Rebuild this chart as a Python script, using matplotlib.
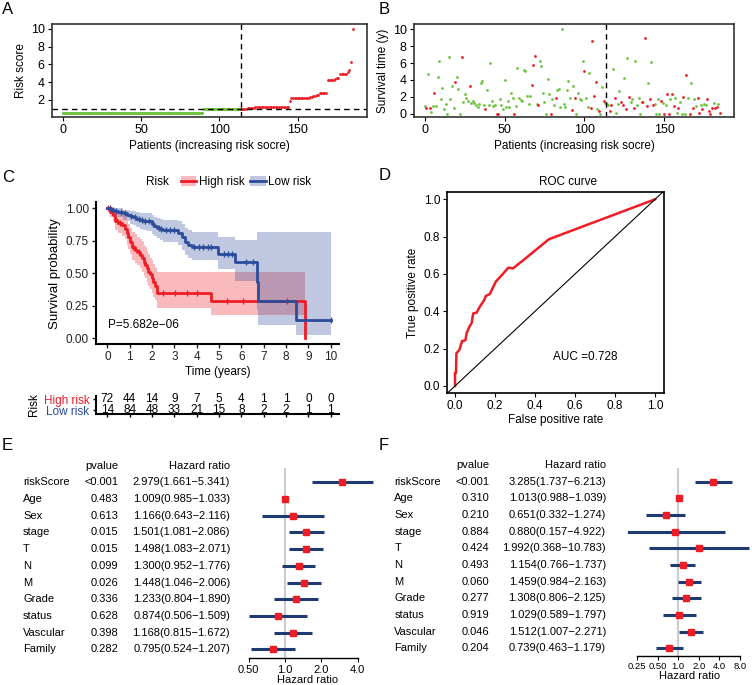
import numpy as np
import matplotlib.pyplot as plt
from matplotlib.patches import Patch
from matplotlib.lines import Line2D
from matplotlib.transforms import blended_transform_factory

plt.rcParams['font.family'] = ['Liberation Sans', 'DejaVu Sans']

W, H = 752, 685
RED = '#ee1c25'
GREEN = '#6cc33c'
BLUE = '#2b4b9b'
NAVY = '#1f3a70'

# ---------------- data ----------------
# A: risk score of each patient (sorted)
a_low = [0.5] * 90 + [0.97] * 24
a_high = ([1.00, 1.01, 1.02, 1.03, 1.04, 1.06, 1.08, 1.10, 1.12]
          + [1.18] * 10 + [1.20] * 8 + [1.25] * 4
          + [1.9] + [2.2] * 12
          + [2.3, 2.35, 2.4, 2.5, 2.55, 2.6]
          + [2.8] * 5
          + [4.2, 4.2, 4.25, 4.3, 4.3, 4.35, 4.5, 4.5]
          + [4.9] * 5 + [5.1, 5.4, 6.3, 10.0])
a_cut = 0.99

# B: survival time (years) and status (1 = dead)
b_time = [0.95, 0.7, 4.65, 0.7, 0.23, 0.9, 2.46, 0.9, 4.4, 6.3, 1.7, 3.0, 0.6, 1.2, 0.0,
          6.7, 1.7, 3.3, 0.7, 3.8, 4.4, 2.9, 0.0, 6.7, 1.4, 2.3, 1.9, 1.5, 3.3, 1.3,
          1.5, 1.3, 1.0, 0.8, 1.1, 3.6, 3.9, 1.0, 0.5, 2.85, 1.0, 6.0, 1.5, 0.9, 1.0,
          0.0, 0.0, 1.7, 1.0, 0.6, 4.0, 0.8, 1.5, 0.8, 2.5, 1.8, 0.0, 0.9, 5.4, 1.8,
          1.6, 1.5, 5.2, 5.1, 2.1, 1.2, 2.1, 3.4, 5.8, 6.8, 1.2, 1.0, 6.3, 5.7, 2.46,
          1.4, 0.0, 4.1, 2.3, 0.0, 1.7, 1.0, 1.8, 2.8, 2.9, 0.8, 10.1, 1.2, 0.8, 2.8,
          3.9, 1.8, 0.4, 3.3, 1.8, 0.0, 2.4, 1.7, 1.6, 6.3, 5.0, 1.8, 0.8, 4.8, 0.7,
          8.6, 2.15, 3.7, 0.6, 0.3, 0.0, 3.2, 1.5, 1.3,
          1.2, 1.0, 0.3, 1.0, 5.3, 1.8, 0.1, 1.2, 2.65, 1.4, 1.0, 4.2, 0.5, 6.6, 2.0,
          1.4, 1.7, 0.7, 6.2, 1.0, 1.9, 0.0, 1.4, 1.4, 9.0, 0.9, 3.6, 1.7, 6.1, 1.0,
          1.2, 0.0, 1.7, 0.0, 1.5, 1.3, 0.0, 1.0, 2.3, 0.0, 1.7, 2.3, 0.9, 1.8, 0.1,
          0.7, 1.4, 0.0, 2.0, 0.0, 4.6, 1.8, 0.0, 3.6, 0.7, 1.7, 0.9, 1.9, 0.1, 1.0,
          0.5, 1.1, 1.0, 1.7, 0.3, 0.0, 0.7, 1.3, 0.7, 0.8, 1.2, 0.1]
b_dead = [0, 1, 0, 1, 0, 0, 1, 0, 0, 0, 0, 0, 0, 0, 0,
          0, 0, 0, 0, 1, 0, 0, 0, 1, 0, 0, 0, 0, 1, 0,
          0, 0, 0, 0, 0, 0, 0, 0, 1, 0, 0, 0, 0, 0, 0,
          1, 1, 0, 0, 0, 0, 0, 0, 0, 0, 0, 1, 0, 0, 0,
          0, 0, 0, 0, 0, 0, 0, 1, 1, 1, 0, 1, 0, 0, 0,
          0, 0, 0, 0, 1, 0, 0, 1, 0, 0, 0, 0, 0, 0, 0,
          0, 0, 1, 0, 1, 0, 0, 0, 0, 0, 1, 0, 0, 0, 1,
          1, 1, 1, 0, 1, 0, 0, 1, 0,
          0, 0, 1, 1, 0, 1, 0, 0, 0, 1, 1, 0, 1, 0, 1,
          0, 0, 1, 0, 0, 0, 0, 1, 0, 1, 1, 0, 1, 0, 1,
          0, 0, 0, 0, 1, 0, 1, 0, 1, 1, 0, 1, 1, 0, 0,
          1, 0, 0, 1, 0, 1, 0, 1, 0, 1, 0, 0, 1, 1, 0,
          1, 0, 0, 1, 1, 1, 1, 0, 1, 1, 0, 1]

# C: Kaplan-Meier, high risk
hr_t = [0, 0.12, 0.27, 0.34, 0.5, 0.64, 0.79, 0.87, 0.94, 1.02, 1.09, 1.24, 1.35,
        1.47, 1.54, 1.62, 1.7, 1.76, 1.84, 1.92, 1.99, 2.06, 2.14, 2.21, 4.62, 8.85]
hr_s = [1.0, 0.97, 0.95, 0.9, 0.886, 0.87, 0.84, 0.81, 0.78, 0.74, 0.70, 0.68, 0.66,
        0.64, 0.62, 0.59, 0.565, 0.54, 0.51, 0.49, 0.46, 0.43, 0.40, 0.345, 0.286, 0.0]
hr_up = [1, 1, 1, 0.99, 0.96, 0.95, 0.93, 0.9, 0.88, 0.85, 0.82, 0.8, 0.78, 0.76,
         0.745, 0.72, 0.7, 0.67, 0.645, 0.62, 0.6, 0.57, 0.54, 0.51, 0.51, 0.51]
hr_lo = [1, 0.93, 0.90, 0.83, 0.81, 0.79, 0.76, 0.72, 0.69, 0.65, 0.6, 0.58, 0.56, 0.54,
         0.51, 0.48, 0.46, 0.43, 0.4, 0.38, 0.35, 0.32, 0.29, 0.23, 0.178, 0.178]
hr_cens = [0.05, 0.2, 0.42, 0.58, 1.15, 1.4, 1.66, 2.5, 3.05, 3.55, 4.03, 5.34, 6.09, 8.03]

# C: Kaplan-Meier, low risk
lr_t = [0, 0.15, 0.3, 0.49, 0.7, 0.87, 1.0, 1.17, 1.3, 1.47, 1.6, 1.76, 1.99, 2.1,
        2.21, 2.35, 2.51, 3.18, 3.33, 3.48, 3.6, 3.78, 4.97, 5.72, 6.69, 6.76, 8.45, 10.0]
lr_s = [1.0, 0.99, 0.98, 0.97, 0.96, 0.95, 0.94, 0.93, 0.92, 0.91, 0.905, 0.90, 0.88,
        0.865, 0.85, 0.84, 0.83, 0.81, 0.78, 0.74, 0.72, 0.70, 0.65, 0.585, 0.435,
        0.286, 0.143, 0.143]
lr_up = [1, 1, 1, 1, 0.99, 0.985, 0.98, 0.975, 0.97, 0.965, 0.96, 0.96, 0.945, 0.935,
         0.925, 0.92, 0.91, 0.9, 0.875, 0.845, 0.83, 0.815, 0.78, 0.755, 0.82, 0.82,
         0.82, 0.82]
lr_lo = [1, 0.97, 0.95, 0.93, 0.91, 0.9, 0.88, 0.87, 0.855, 0.84, 0.83, 0.825, 0.8,
         0.785, 0.77, 0.755, 0.74, 0.72, 0.68, 0.64, 0.62, 0.6, 0.53, 0.44, 0.22, 0.1,
         0.025, 0.025]
lr_cens = [0.1, 0.25, 0.4, 0.6, 0.8, 1.05, 1.22, 1.4, 1.55, 1.7, 1.85, 2.05, 2.3, 2.42,
           2.62, 2.8, 3.0, 3.9, 4.1, 4.3, 4.5, 4.65, 5.2, 5.4, 5.6, 6.2, 6.5, 10.0]
km_p = 'P=5.682e\u221206'

risk_times = list(range(11))
risk_high = [72, 44, 14, 9, 7, 5, 4, 1, 1, 0, 0]
risk_low = [14, 84, 48, 33, 21, 15, 8, 2, 2, 1, 1]

# D: ROC
fpr = [0, 0, 0.005, 0.007, 0.022, 0.035, 0.052, 0.058, 0.072, 0.083, 0.091, 0.108,
       0.124, 0.146, 0.154, 0.174, 0.204, 0.234, 0.267, 0.29, 0.353, 0.469, 1.0]
tpr = [0, 0.07, 0.07, 0.175, 0.193, 0.24, 0.245, 0.282, 0.318, 0.336, 0.389, 0.393,
       0.425, 0.46, 0.482, 0.493, 0.559, 0.594, 0.634, 0.63, 0.684, 0.786, 1.0]
auc = 0.728

# E / F: forest plots
vars_ = ['riskScore', 'Age', 'Sex', 'stage', 'T', 'N', 'M', 'Grade', 'status',
         'Vascular', 'Family']
e_p = ['<0.001', '0.483', '0.613', '0.015', '0.015', '0.099', '0.026', '0.336',
       '0.628', '0.398', '0.282']
e_hr = [2.979, 1.009, 1.166, 1.501, 1.498, 1.300, 1.448, 1.233, 0.874, 1.168, 0.795]
e_lo = [1.661, 0.985, 0.643, 1.081, 1.083, 0.952, 1.046, 0.804, 0.506, 0.815, 0.524]
e_hi = [5.341, 1.033, 2.116, 2.086, 2.071, 1.776, 2.006, 1.890, 1.509, 1.672, 1.207]
f_p = ['<0.001', '0.310', '0.210', '0.884', '0.424', '0.493', '0.060', '0.277',
       '0.919', '0.046', '0.204']
f_hr = [3.285, 1.013, 0.651, 0.880, 1.992, 1.154, 1.459, 1.308, 1.029, 1.512, 0.739]
f_lo = [1.737, 0.988, 0.332, 0.157, 0.368, 0.766, 0.984, 0.806, 0.589, 1.007, 0.463]
f_hi = [6.213, 1.039, 1.274, 4.922, 10.783, 1.737, 2.163, 2.125, 1.797, 2.271, 1.179]
e_ticks = [0.5, 1, 2, 4]
e_ticklabels = ['0.50', '1.0', '2.0', '4.0']
f_ticks = [0.25, 0.5, 1, 2, 4, 8]
f_ticklabels = ['0.25', '0.50', '1.0', '2.0', '4.0', '8.0']


def box(x0, y0, x1, y1):
    return [x0 / W, 1 - y1 / H, (x1 - x0) / W, (y1 - y0) / H]


fig = plt.figure(figsize=(W / 100, H / 100), dpi=100)

# panel letters
for s, (px, py) in zip('ABCDEF', [(2, 9), (379, 9), (2, 177), (379, 176), (2, 446), (379, 446)]):
    fig.text(px / W, 1 - py / H, s, fontsize=12, va='center', ha='left')


def base_style(ax):
    for sp in ax.spines.values():
        sp.set_color('#333333')
        sp.set_linewidth(1.2)
    ax.tick_params(direction='out', length=3, width=0.8, labelsize=9, pad=2)


# ---------------- A ----------------
axA = fig.add_axes(box(51.7, 24, 366.7, 117))
a_score = np.array(a_low + a_high)
xa = np.arange(len(a_score))
nlow = len(a_low)
axA.scatter(xa[:nlow], a_score[:nlow], s=5, color=GREEN, linewidths=0)
axA.scatter(xa[nlow:], a_score[nlow:], s=4, color=RED, linewidths=0)
axA.axvline(nlow - 0.5, ls=(0, (4, 3)), color='k', lw=1)
axA.axhline(a_cut, ls=(0, (4, 3)), color='k', lw=1)
axA.set_xlim(-7, 194)
axA.set_ylim(0.08, 10.56)
axA.set_yticks([2, 4, 6, 8, 10])
axA.set_xticks([0, 50, 100, 150])
axA.set_ylabel('Risk score', fontsize=8.5, labelpad=3)
axA.set_xlabel('Patients (increasing risk socre)', fontsize=8.5, labelpad=3)
base_style(axA)

# ---------------- B ----------------
axB = fig.add_axes(box(413.7, 24.3, 734.3, 117))
bt = np.array(b_time)
bd = np.array(b_dead, dtype=bool)
xb = np.arange(len(bt))
axB.scatter(xb[~bd], bt[~bd], s=4, color=GREEN, linewidths=0)
axB.scatter(xb[bd], bt[bd], s=4, color=RED, linewidths=0)
axB.axvline(nlow - 0.5, ls=(0, (4, 3)), color='k', lw=1)
axB.set_xlim(-7, 194)
axB.set_ylim(-0.4, 10.6)
axB.set_yticks([0, 2, 4, 6, 8, 10])
axB.set_xticks([0, 50, 100, 150])
axB.set_ylabel('Survival time (y)', fontsize=8.5, labelpad=3)
axB.set_xlabel('Patients (increasing risk socre)', fontsize=8.5, labelpad=3)
base_style(axB)

# ---------------- C ----------------
axC = fig.add_axes(box(95.7, 202.4, 339.3, 344))
for t, s, up, lo, cens, col in [(hr_t, hr_s, hr_up, hr_lo, hr_cens, RED),
                                (lr_t, lr_s, lr_up, lr_lo, lr_cens, BLUE)]:
    axC.fill_between(t, lo, up, step='post', color=col, alpha=0.3, linewidth=0)
    axC.step(t, s, where='post', color=col, lw=2)
    idx = np.searchsorted(t, cens, side='right') - 1
    axC.plot(cens, np.array(s)[idx], ls='none', marker='|', ms=4, mew=1, color=col)
axC.set_xlim(-0.52, 10.38)
axC.set_ylim(-0.045, 1.045)
axC.set_xticks(risk_times)
axC.set_yticks([0, 0.25, 0.5, 0.75, 1.0])
axC.set_yticklabels(['0.00', '0.25', '0.50', '0.75', '1.00'])
for sp in ['top', 'right']:
    axC.spines[sp].set_visible(False)
for sp in ['left', 'bottom']:
    axC.spines[sp].set_linewidth(1.5)
axC.tick_params(direction='out', length=3, width=1, labelsize=8.5, pad=2, colors='#222222')
axC.set_ylabel('Survival probability', fontsize=9.5, labelpad=3)
axC.set_xlabel('Time (years)', fontsize=8.5, labelpad=2)
axC.text(0.03, 0.10, km_p, fontsize=8.5, ha='left', va='center')

fig.text(146 / W, 1 - 182 / H, 'Risk', fontsize=8.5, va='center')
handles = [(Patch(facecolor=RED, alpha=0.3), Line2D([], [], color=RED, lw=2)),
           (Patch(facecolor=BLUE, alpha=0.3), Line2D([], [], color=BLUE, lw=2))]
axC.legend(handles, ['High risk', 'Low risk'], loc='center left',
           bbox_to_anchor=(181 / W, 1 - 182 / H), bbox_transform=fig.transFigure,
           ncol=2, frameon=False, handlelength=1.3, handleheight=0.9,
           handletextpad=0.2, columnspacing=0.5, fontsize=8.5,
           borderaxespad=0, borderpad=0)

# risk table
axT = fig.add_axes(box(95.7, 396, 339.3, 414))
axT.set_xlim(axC.get_xlim())
axT.set_ylim(-0.37, 1.3)
for t, nh, nl in zip(risk_times, risk_high, risk_low):
    axT.text(t, 1, str(nh), ha='center', va='center', fontsize=8.5)
    axT.text(t, 0, str(nl), ha='center', va='center', fontsize=8.5)
axT.set_xticks(risk_times)
axT.set_xticklabels([])
axT.set_yticks([1, 0])
axT.set_yticklabels(['High risk', 'Low risk'], fontsize=8.5)
axT.get_yticklabels()[0].set_color(RED)
axT.get_yticklabels()[1].set_color(BLUE)
for sp in ['top', 'right']:
    axT.spines[sp].set_visible(False)
for sp in ['left', 'bottom']:
    axT.spines[sp].set_linewidth(1.5)
axT.tick_params(direction='out', length=2.5, width=1, pad=2)
axT.set_ylabel('Risk', fontsize=8.5, labelpad=3)

# ---------------- D ----------------
axD = fig.add_axes(box(447, 192.3, 663.7, 392.7))
axD.plot(fpr, tpr, color=RED, lw=1.8)
axD.axline((0, 0), (1, 1), color='k', lw=0.8)
axD.set_xlim(-0.04, 1.043)
axD.set_ylim(-0.036, 1.0375)
axD.set_xticks(np.arange(0, 1.01, 0.2))
axD.set_yticks(np.arange(0, 1.01, 0.2))
axD.text(0.49, 0.154, f'AUC ={auc:.3f}', fontsize=8.5, ha='left', va='center')
axD.set_xlabel('False positive rate', fontsize=8.5, labelpad=2)
axD.set_ylabel('True positive rate', fontsize=8.5, labelpad=3)
fig.text(568 / W, 1 - 182 / H, 'ROC curve', fontsize=8.5, ha='center', va='center')
for sp in axD.spines.values():
    sp.set_linewidth(1.2)
axD.tick_params(direction='out', length=3, width=0.8, labelsize=8.5, pad=2)


# ---------------- E / F ----------------
def forest(rect, xlim, ylim, ticks, ticklabels, tick_fs, pvals, hr, lo, hi, x_lab, x_p, x_hr):
    ax = fig.add_axes(rect)
    n = len(vars_)
    ys = np.arange(n, 0, -1)
    ax.set_xscale('log', base=2)
    ax.set_xlim(xlim)
    ax.set_ylim(ylim)
    ax.axvline(1, color='#cccccc', lw=1.5, zorder=0)
    ax.hlines(ys, lo, hi, color=NAVY, lw=2.2, zorder=1)
    ax.plot(hr, ys, ls='none', marker='s', ms=5, color=RED, zorder=2)
    for sp in ['top', 'right', 'left']:
        ax.spines[sp].set_visible(False)
    ax.spines['bottom'].set_bounds(ticks[0], ticks[-1])
    ax.spines['bottom'].set_linewidth(1)
    ax.set_yticks([])
    ax.set_xticks(ticks)
    ax.set_xticklabels(ticklabels)
    ax.minorticks_off()
    ax.tick_params(axis='x', direction='out', length=3, labelsize=tick_fs, pad=1.5)
    ax.set_xlabel('Hazard ratio', fontsize=8, labelpad=0)
    tr = blended_transform_factory(fig.transFigure, ax.transData)
    ax.text(x_p / W, n + 1, 'pvalue', transform=tr, ha='right', va='center', fontsize=8)
    ax.text(x_hr / W, n + 1, 'Hazard ratio', transform=tr, ha='right', va='center', fontsize=8)
    for y, name, p, h, l, u in zip(ys, vars_, pvals, hr, lo, hi):
        ax.text(x_lab / W, y, name, transform=tr, ha='left', va='center', fontsize=8)
        ax.text(x_p / W, y, p, transform=tr, ha='right', va='center', fontsize=8)
        ax.text(x_hr / W, y, f'{h:.3f}({l:.3f}\u2212{u:.3f})', transform=tr,
                ha='right', va='center', fontsize=8)
    return ax


forest(box(240, 468, 376, 658.3),
       (2 ** ((240 - 285) / 36.3), 2 ** ((376 - 285) / 36.3)), (0.46, 11.86),
       e_ticks, e_ticklabels, 8, e_p, e_hr, e_lo, e_hi, 23, 118.3, 230)
forest(box(628, 468, 752, 656),
       (2 ** ((628 - 678.3) / 20.5), 2 ** ((752 - 678.3) / 20.5)), (0.54, 11.82),
       f_ticks, f_ticklabels, 6.8, f_p, f_hr, f_lo, f_hi, 394.3, 489.3, 606)

fig.savefig('out.png', dpi=100)
